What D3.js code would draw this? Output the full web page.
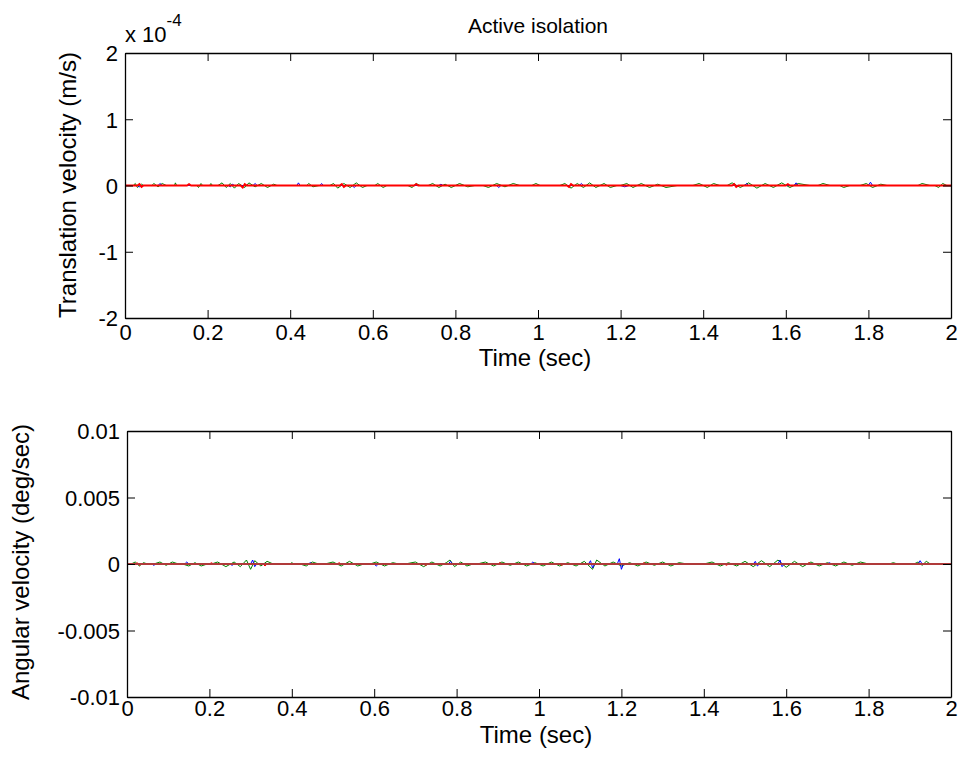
<!DOCTYPE html>
<html><head><meta charset="utf-8">
<script src="https://cdn.jsdelivr.net/npm/d3@7"></script>
<style>
body{margin:0;background:#fff;}
svg{display:block;font-family:Arial,"Liberation Sans",sans-serif;}
</style></head>
<body>
<svg id="c" width="963" height="769"></svg>
<script>
// ---------- data ----------
const titleText = "Active isolation";
const xTicks = [0, 0.2, 0.4, 0.6, 0.8, 1, 1.2, 1.4, 1.6, 1.8, 2];
const xTickLabels = ["0","0.2","0.4","0.6","0.8","1","1.2","1.4","1.6","1.8","2"];
const topYTicks = [-2, -1, 0, 1, 2];            // units of 1e-4 m/s
const topYTickLabels = ["-2","-1","0","1","2"];
const botYTicks = [-0.01, -0.005, 0, 0.005, 0.01];
const botYTickLabels = ["-0.01","-0.005","0","0.005","0.01"];

// Translation velocity (x 1e-4 m/s): [time, value]
const transGreen = [[0,0],[0.02,0],[0.025,0.03],[0.03,-0.03],[0.04,0.02],[0.045,0],[0.065,0],[0.07,0.03],[0.08,-0.02],[0.09,0.03],[0.1,0],
 [0.12,0],[0.122,0.04],[0.125,0],[0.174,0],[0.178,-0.03],[0.184,0.03],[0.188,0],[0.205,0],[0.208,0.03],[0.212,0],
 [0.225,0],[0.235,0.04],[0.245,-0.03],[0.255,0.03],[0.265,-0.04],[0.275,0.03],[0.29,-0.03],[0.3,0.04],[0.315,-0.02],[0.33,0.03],[0.345,-0.03],[0.36,0.02],[0.368,0],
 [0.44,0],[0.445,0.03],[0.455,-0.02],[0.47,0],[0.496,0],[0.505,0.03],[0.515,-0.04],[0.53,0.03],[0.545,-0.03],[0.56,0.04],[0.575,-0.03],[0.586,0],
 [0.605,0],[0.612,0.03],[0.625,-0.03],[0.634,0],[0.685,0],[0.695,-0.03],[0.705,0.03],[0.714,0],
 [0.734,0],[0.745,0.03],[0.76,-0.03],[0.775,0.02],[0.79,-0.03],[0.81,0.03],[0.83,-0.02],[0.847,0],
 [0.867,0],[0.88,-0.03],[0.9,0.03],[0.92,-0.02],[0.94,0.03],[0.956,0],[0.985,0],[0.995,0.03],[1.005,0],
 [1.053,0],[1.065,0.03],[1.08,-0.04],[1.095,0.03],[1.11,-0.03],[1.125,0.04],[1.14,-0.03],[1.16,0.03],[1.175,-0.03],[1.191,0],
 [1.2,0],[1.215,0.03],[1.23,-0.03],[1.25,0.03],[1.27,-0.03],[1.29,0.02],[1.31,-0.03],[1.337,0],
 [1.375,0],[1.39,0.03],[1.41,-0.03],[1.425,0.03],[1.44,0],[1.458,0],[1.47,0.04],[1.49,-0.03],[1.51,0.04],[1.53,-0.04],[1.55,0.03],[1.57,-0.03],[1.59,0.04],[1.61,-0.03],[1.63,0.03],[1.658,0],
 [1.678,0],[1.69,0.03],[1.707,0],[1.731,0],[1.74,-0.03],[1.755,0],[1.78,0],[1.795,0.03],[1.81,-0.03],[1.83,0.02],[1.845,0],
 [1.92,0],[1.93,0.03],[1.949,0],[1.961,0],[1.97,-0.03],[1.98,0.03],[1.99,0],[2,0]];
const transBlue = [[0,0],[0.03,0],[0.035,-0.02],[0.04,0],[0.08,0],[0.085,0.03],[0.09,0],[0.25,0],[0.255,-0.02],[0.26,0.02],[0.265,0],
 [0.31,0],[0.315,0.03],[0.32,0],[0.416,0],[0.42,0.04],[0.424,0],[0.472,0],[0.476,0.03],[0.48,0],[0.55,0],[0.555,-0.03],[0.56,0],
 [0.76,0],[0.765,0.02],[0.77,0],[0.9,0],[0.905,-0.03],[0.91,0],[1.1,0],[1.105,0.03],[1.11,0],[1.2,0],[1.21,-0.02],[1.22,0],
 [1.5,0],[1.505,0.03],[1.51,0],[1.62,0],[1.625,0.04],[1.63,0],[1.8,0],[1.805,0.05],[1.81,0],[2,0]];
const transRed = [[0,0],[0.03,0],[0.035,0.02],[0.04,-0.02],[0.045,0],[0.15,0],[0.155,0.02],[0.16,0],[0.28,0],[0.285,-0.03],[0.29,0.02],[0.295,0],
 [0.52,0],[0.525,0.02],[0.53,-0.02],[0.535,0],[0.7,0],[0.705,0.02],[0.71,0],[1.07,0],[1.075,-0.02],[1.08,0.02],[1.085,0],
 [1.47,0],[1.475,0.02],[1.48,-0.02],[1.485,0],[1.6,0],[1.605,0.02],[1.61,0],[2,0]];

// Angular velocity (deg/sec): [time, value]
const angGreen = [[0,0],[0.01,0],[0.02,0.00015],[0.03,-0.00015],[0.04,0.0001],[0.05,0],[0.065,0],[0.08,0.00015],[0.095,-0.0001],[0.11,0.00015],[0.125,0],
 [0.135,0],[0.15,-0.00015],[0.165,0.0001],[0.18,-0.00015],[0.195,0],[0.205,0],[0.22,0.00015],[0.24,-0.0002],[0.26,0.00015],[0.275,-0.0002],[0.29,0.0003],[0.3,-0.0004],[0.31,0.00025],[0.325,-0.00015],[0.34,0.0002],[0.355,0],
 [0.395,0],[0.4,0.0001],[0.405,0],[0.42,0],[0.435,-0.00015],[0.45,0.00015],[0.465,0],[0.48,0],[0.5,0.00015],[0.52,-0.00015],[0.54,0.0002],[0.56,-0.00015],[0.575,0],
 [0.59,0],[0.605,0.00015],[0.625,-0.00015],[0.645,0.0001],[0.66,0],[0.675,0],[0.7,0.00015],[0.72,-0.0002],[0.74,0.00015],[0.76,-0.00015],[0.775,0.0001],[0.784,0.0003],[0.795,-0.0002],[0.81,0.00015],[0.825,-0.00015],[0.84,0],
 [0.85,0],[0.87,0.00015],[0.89,-0.00015],[0.91,0.00015],[0.93,-0.0001],[0.95,0.00015],[0.97,-0.00015],[0.99,0.0001],[1.01,-0.00015],[1.03,0.00015],[1.05,-0.00015],[1.07,0.0001],[1.09,-0.00015],[1.11,0.0002],[1.13,-0.0004],[1.14,0.0003],[1.16,-0.00015],[1.18,0.00015],[1.2,-0.00015],[1.22,0.0001],[1.24,-0.00015],[1.26,0.00015],[1.28,-0.0001],[1.3,0.00015],[1.32,-0.00015],[1.34,0.0001],[1.36,0],
 [1.4,0],[1.42,0.00015],[1.44,-0.00015],[1.46,0.0001],[1.48,-0.00015],[1.5,0.0002],[1.52,-0.0002],[1.54,0.00025],[1.56,-0.0002],[1.58,0.0003],[1.6,-0.00025],[1.62,0.0002],[1.64,-0.0002],[1.66,0.00015],[1.68,-0.00015],[1.7,0.0001],[1.72,-0.00015],[1.74,0.00015],[1.76,-0.0001],[1.78,0.00015],[1.8,0],
 [1.85,0],[1.86,0.0001],[1.87,0],[1.91,0],[1.92,0.00015],[1.93,-0.0001],[1.94,0.0002],[1.95,0],[2,0]];
const angBlue = [[0,0],[0.06,0],[0.065,-0.0001],[0.07,0],[0.14,0],[0.145,0.00015],[0.15,0],[0.25,0],[0.255,-0.0001],[0.26,0],
 [0.3,0],[0.305,0.0003],[0.31,-0.0002],[0.315,0],[0.44,0],[0.445,0.0001],[0.45,0],[0.6,0],[0.605,-0.00015],[0.61,0],
 [0.78,0],[0.785,0.0002],[0.79,0],[0.98,0],[0.985,0.00015],[0.99,0],[1.12,0],[1.125,0.00025],[1.13,-0.0003],[1.135,0],
 [1.19,0],[1.195,0.0004],[1.2,-0.0004],[1.205,0],[1.52,0],[1.525,0.0002],[1.53,-0.00015],[1.535,0],[1.58,0],[1.585,0.0003],[1.59,-0.0002],[1.595,0],
 [1.7,0],[1.705,0.0001],[1.71,0],[1.92,0],[1.925,0.00025],[1.93,0],[2,0]];
const angRed = [[0,0],[0.02,0],[0.025,0.0001],[0.03,-0.0001],[0.035,0],[0.2,0],[0.205,0.0001],[0.21,0],[0.33,0],[0.335,-0.00015],[0.34,0],
 [0.51,0],[0.515,0.0001],[0.52,0],[0.72,0],[0.725,-0.0001],[0.73,0],[0.9,0],[0.905,0.0001],[0.91,0],[1.05,0],[1.055,-0.0001],[1.06,0],
 [1.25,0],[1.255,0.0001],[1.26,0],[1.45,0],[1.455,-0.0001],[1.46,0],[1.65,0],[1.655,0.0001],[1.66,0],[2,0]];
const angBase = [[0,0],[2,0]];

// ---------- drawing ----------
const svg = d3.select("#c");
const FS = 22;   // tick labels
const LFS = 24;  // axis labels

function panel(o){
  const x = d3.scaleLinear().domain([0,2]).range([o.left,o.right]);
  const y = d3.scaleLinear().domain(o.yDomain).range([o.bottom,o.top]);
  const g = svg.append("g");
  const line = d3.line().x(d=>x(d[0])).y(d=>y(d[1]));
  o.series.forEach(s=>{
    g.append("path").datum(s.data).attr("d",line).attr("fill","none").attr("stroke",s.color).attr("stroke-width",s.w||1);
  });
  const tl = 8;
  const bx = g.append("g").attr("transform",`translate(0,${o.bottom})`)
    .call(d3.axisBottom(x).tickValues(xTicks).tickFormat((d,i)=>xTickLabels[i]).tickSizeInner(-tl).tickSizeOuter(0).tickPadding(o.xpad));
  const tx = g.append("g").attr("transform",`translate(0,${o.top})`)
    .call(d3.axisTop(x).tickValues(xTicks).tickFormat("").tickSizeInner(-tl).tickSizeOuter(0));
  const ly = g.append("g").attr("transform",`translate(${o.left},0)`)
    .call(d3.axisLeft(y).tickValues(o.yTicks).tickFormat((d,i)=>o.yLabels[i]).tickSizeInner(-tl).tickSizeOuter(0).tickPadding(7));
  const ry = g.append("g").attr("transform",`translate(${o.right},0)`)
    .call(d3.axisRight(y).tickValues(o.yTicks).tickFormat("").tickSizeInner(-tl).tickSizeOuter(0));
  [bx,tx,ly,ry].forEach(a=>{
    a.selectAll(".domain").attr("stroke","#000").attr("stroke-width",1.3);
    a.selectAll(".tick line").attr("stroke","#000");
    a.selectAll("text").attr("font-size",FS).attr("font-family","Arial, 'Liberation Sans', sans-serif").attr("fill","#000");
  });
  bx.selectAll("text").attr("dy","0.71em");
  ly.selectAll("text").attr("dy","0.36em");
  g.append("text").attr("x",(o.left+o.right)/2 - 3).attr("y",o.xly).attr("text-anchor","middle").attr("font-size",LFS).text("Time (sec)");
  g.append("text").attr("transform",`translate(${o.ylx},${o.yly}) rotate(-90)`).attr("text-anchor","middle").attr("font-size",LFS).text(o.ylabel);
  return {x,y};
}

panel({left:125,right:951,top:53,bottom:318,yDomain:[-2,2],yTicks:topYTicks,yLabels:topYTickLabels,
  ylabel:"Translation velocity (m/s)",ylx:76,yly:185,xpad:6,xly:366,
  series:[{data:transGreen,color:"#008000"},{data:transBlue,color:"#0000ff"},{data:transRed,color:"#ff0000",w:2}]});
panel({left:127,right:951,top:431,bottom:697,yDomain:[-0.01,0.01],yTicks:botYTicks,yLabels:botYTickLabels,
  ylabel:"Angular velocity (deg/sec)",ylx:29,yly:562,xpad:3,xly:743,
  series:[{data:angGreen,color:"#008000"},{data:angBlue,color:"#0000ff"},{data:angRed,color:"#ff0000"},{data:angBase,color:"#b03a3a",w:2}]});

// title
svg.append("text").attr("x",538).attr("y",33).attr("text-anchor","middle").attr("font-size",21).text(titleText);
// exponent
const ex = svg.append("text").attr("x",125).attr("y",42).attr("font-size",FS);
ex.append("tspan").text("x 10");
ex.append("tspan").attr("dy",-16).attr("font-size",17).text("-4");
</script>
</body></html>
